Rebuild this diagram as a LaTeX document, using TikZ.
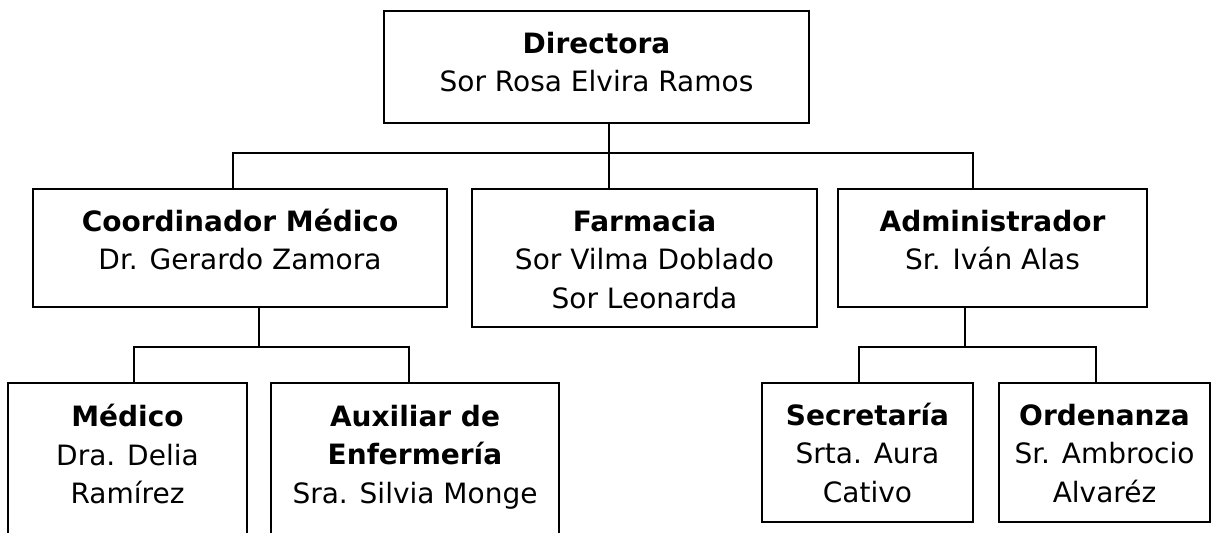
\documentclass[tikz,border=0pt]{standalone}
\usepackage{fontspec}
\setmainfont{DejaVu Sans}
\usetikzlibrary{positioning}
\tikzset{
  box/.style={draw, line width=1.8pt, rectangle, inner sep=0pt, outer sep=0pt},
  txt/.style={align=center, inner sep=0pt, outer sep=0pt, font=\fontsize{28}{38.5}\selectfont},
  conn/.style={line width=1.8pt}
}
\newcommand{\firstline}{\rule{0pt}{30pt}}
\begin{document}
\begin{tikzpicture}[x=1pt,y=-1pt]
\useasboundingbox (0,0) rectangle (1211,533);
\fill[white] (0,0) rectangle (1211,533);
\clip (0,0) rectangle (1211,533);

% boxes
\node[box, minimum width=425pt, minimum height=112pt] (dir) at (596.5,67) {};
\node[box, minimum width=414pt, minimum height=118pt] (coo) at (240,248) {};
\node[box, minimum width=345pt, minimum height=138pt] (far) at (644.5,258) {};
\node[box, minimum width=309pt, minimum height=118pt] (adm) at (992.5,248) {};
\node[box, minimum width=239pt, minimum height=200pt] (med) at (127.5,483) {};
\node[box, minimum width=288pt, minimum height=200pt] (aux) at (415,483) {};
\node[box, minimum width=211pt, minimum height=139pt] (sec) at (867.5,452.5) {};
\node[box, minimum width=211pt, minimum height=139pt] (ord) at (1104.5,452.5) {};

% texts
\node[txt, below=12pt of dir.north] (tdir) {\firstline\textbf{Directora}\\Sor Rosa Elvira Ramos};
\node[txt, below=12pt of coo.north] (tcoo) {\firstline\textbf{Coordinador Médico}\\Dr. Gerardo Zamora};
\node[txt, below=12pt of far.north] (tfar) {\firstline\textbf{Farmacia}\\Sor Vilma Doblado\\Sor Leonarda};
\node[txt, below=12pt of adm.north] (tadm) {\firstline\textbf{Administrador}\\Sr. Iván Alas};
\node[txt, below=13.5pt of med.north] (tmed) {\firstline\textbf{Médico}\\Dra. Delia\\Ramírez};
\node[txt, below=13pt of aux.north] (taux) {\firstline\textbf{Auxiliar de}\\\textbf{Enfermería}\\Sra. Silvia Monge};
\node[txt, below=12pt of sec.north] (tsec) {\firstline\textbf{Secretaría}\\Srta. Aura\\Cativo};
\node[txt, below=12pt of ord.north] (tord) {\firstline\textbf{Ordenanza}\\Sr. Ambrocio\\Alvaréz};

% junction coordinates
\coordinate (j0) at (609,153);
\coordinate (hl) at (233,153);
\coordinate (hr) at (973,153);
\coordinate (c1) at (259,347);
\coordinate (l1) at (134,347);
\coordinate (l2) at (409,347);
\coordinate (c2) at (965,347);
\coordinate (r1) at (859,347);
\coordinate (r2) at (1096,347);

% connectors
\draw[conn] (j0 |- dir.south) -- (j0 |- far.north);
\draw[conn] (hl |- coo.north) -- (hl) -- (hr) -- (hr |- adm.north);
\draw[conn] (c1 |- coo.south) -- (c1);
\draw[conn] (l1 |- med.north) -- (l1) -- (l2) -- (l2 |- aux.north);
\draw[conn] (c2 |- adm.south) -- (c2);
\draw[conn] (r1 |- sec.north) -- (r1) -- (r2) -- (r2 |- ord.north);
\end{tikzpicture}
\end{document}
